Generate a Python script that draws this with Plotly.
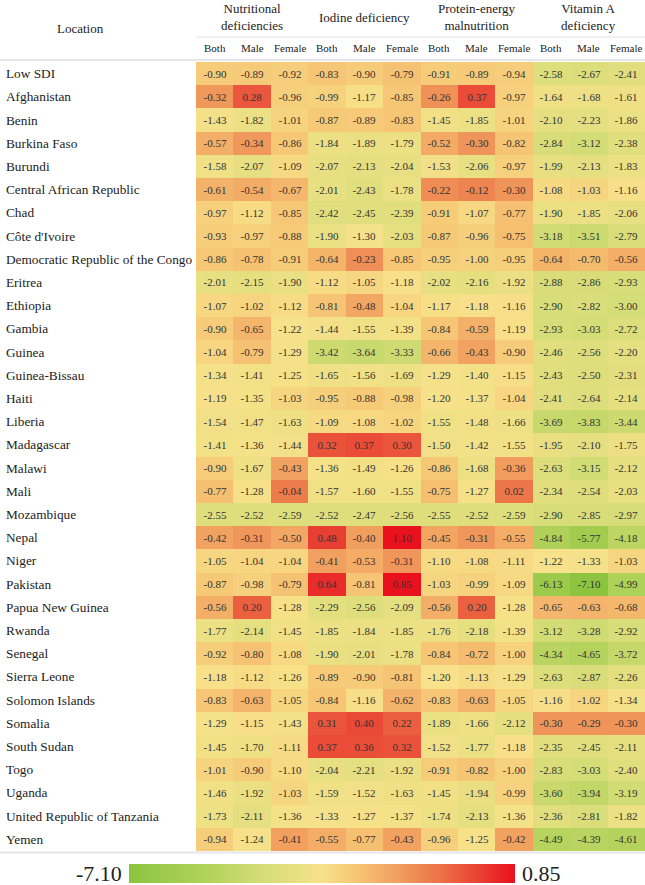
import numpy as np
import plotly.graph_objects as go

locations = ["Low SDI", "Afghanistan", "Benin", "Burkina Faso", "Burundi",
             "Central African Republic", "Chad", "Côte d'Ivoire",
             "Democratic Republic of the Congo", "Eritrea", "Ethiopia", "Gambia",
             "Guinea", "Guinea-Bissau", "Haiti", "Liberia", "Madagascar", "Malawi",
             "Mali", "Mozambique", "Nepal", "Niger", "Pakistan", "Papua New Guinea",
             "Rwanda", "Senegal", "Sierra Leone", "Solomon Islands", "Somalia",
             "South Sudan", "Togo", "Uganda", "United Republic of Tanzania", "Yemen"]

groups = ["Nutritional<br>deficiencies", "Iodine deficiency",
          "Protein-energy<br>malnutrition", "Vitamin A<br>deficiency"]
sexes = ["Both", "Male", "Female"]

nutr_both = [-0.90, -0.32, -1.43, -0.57, -1.58, -0.61, -0.97, -0.93, -0.86, -2.01, -1.07, -0.90,
             -1.04, -1.34, -1.19, -1.54, -1.41, -0.90, -0.77, -2.55, -0.42, -1.05, -0.87, -0.56,
             -1.77, -0.92, -1.18, -0.83, -1.29, -1.45, -1.01, -1.46, -1.73, -0.94]
nutr_male = [-0.89, 0.28, -1.82, -0.34, -2.07, -0.54, -1.12, -0.97, -0.78, -2.15, -1.02, -0.65,
             -0.79, -1.41, -1.35, -1.47, -1.36, -1.67, -1.28, -2.52, -0.31, -1.04, -0.98, 0.20,
             -2.14, -0.80, -1.12, -0.63, -1.15, -1.70, -0.90, -1.92, -2.11, -1.24]
nutr_female = [-0.92, -0.96, -1.01, -0.86, -1.09, -0.67, -0.85, -0.88, -0.91, -1.90, -1.12, -1.22,
               -1.29, -1.25, -1.03, -1.63, -1.44, -0.43, -0.04, -2.59, -0.50, -1.04, -0.79, -1.28,
               -1.45, -1.08, -1.26, -1.05, -1.43, -1.11, -1.10, -1.03, -1.36, -0.41]
iod_both = [-0.83, -0.99, -0.87, -1.84, -2.07, -2.01, -2.42, -1.90, -0.64, -1.12, -0.81, -1.44,
            -3.42, -1.65, -0.95, -1.09, 0.32, -1.36, -1.57, -2.52, 0.48, -0.41, 0.64, -2.29,
            -1.85, -1.90, -0.89, -0.84, 0.31, 0.37, -2.04, -1.59, -1.33, -0.55]
iod_male = [-0.90, -1.17, -0.89, -1.89, -2.13, -2.43, -2.45, -1.30, -0.23, -1.05, -0.48, -1.55,
            -3.64, -1.56, -0.88, -1.08, 0.37, -1.49, -1.60, -2.47, -0.40, -0.53, -0.81, -2.56,
            -1.84, -2.01, -0.90, -1.16, 0.40, 0.36, -2.21, -1.52, -1.27, -0.77]
iod_female = [-0.79, -0.85, -0.83, -1.79, -2.04, -1.78, -2.39, -2.03, -0.85, -1.18, -1.04, -1.39,
              -3.33, -1.69, -0.98, -1.02, 0.30, -1.26, -1.55, -2.56, 1.10, -0.31, 0.85, -2.09,
              -1.85, -1.78, -0.81, -0.62, 0.22, 0.32, -1.92, -1.63, -1.37, -0.43]
pem_both = [-0.91, -0.26, -1.45, -0.52, -1.53, -0.22, -0.91, -0.87, -0.95, -2.02, -1.17, -0.84,
            -0.66, -1.29, -1.20, -1.55, -1.50, -0.86, -0.75, -2.55, -0.45, -1.10, -1.03, -0.56,
            -1.76, -0.84, -1.20, -0.83, -1.89, -1.52, -0.91, -1.45, -1.74, -0.96]
pem_male = [-0.89, 0.37, -1.85, -0.30, -2.06, -0.12, -1.07, -0.96, -1.00, -2.16, -1.18, -0.59,
            -0.43, -1.40, -1.37, -1.48, -1.42, -1.68, -1.27, -2.52, -0.31, -1.08, -0.99, 0.20,
            -2.18, -0.72, -1.13, -0.63, -1.66, -1.77, -0.82, -1.94, -2.13, -1.25]
pem_female = [-0.94, -0.97, -1.01, -0.82, -0.97, -0.30, -0.77, -0.75, -0.95, -1.92, -1.16, -1.19,
              -0.90, -1.15, -1.04, -1.66, -1.55, -0.36, 0.02, -2.59, -0.55, -1.11, -1.09, -1.28,
              -1.39, -1.00, -1.29, -1.05, -2.12, -1.18, -1.00, -0.99, -1.36, -0.42]
vita_both = [-2.58, -1.64, -2.10, -2.84, -1.99, -1.08, -1.90, -3.18, -0.64, -2.88, -2.90, -2.93,
             -2.46, -2.43, -2.41, -3.69, -1.95, -2.63, -2.34, -2.90, -4.84, -1.22, -6.13, -0.65,
             -3.12, -4.34, -2.63, -1.16, -0.30, -2.35, -2.83, -3.60, -2.36, -4.49]
vita_male = [-2.67, -1.68, -2.23, -3.12, -2.13, -1.03, -1.85, -3.51, -0.70, -2.86, -2.82, -3.03,
             -2.56, -2.50, -2.64, -3.83, -2.10, -3.15, -2.54, -2.85, -5.77, -1.33, -7.10, -0.63,
             -3.28, -4.65, -2.87, -1.02, -0.29, -2.45, -3.03, -3.94, -2.81, -4.39]
vita_female = [-2.41, -1.61, -1.86, -2.38, -1.83, -1.16, -2.06, -2.79, -0.56, -2.93, -3.00, -2.72,
               -2.20, -2.31, -2.14, -3.44, -1.75, -2.12, -2.03, -2.97, -4.18, -1.03, -4.99, -0.68,
               -2.92, -3.72, -2.26, -1.34, -0.30, -2.11, -2.40, -3.19, -1.82, -4.61]

scale_min, scale_mid, scale_max = -7.10, -1.20, 0.85

columns = [nutr_both, nutr_male, nutr_female, iod_both, iod_male, iod_female,
           pem_both, pem_male, pem_female, vita_both, vita_male, vita_female]
vals = np.array(columns).T  # rows x 12
colorpos = np.interp(vals, [scale_min, scale_mid, scale_max], [0.0, 0.5, 1.0])
text = [[f"{v:.2f}" for v in row] for row in vals]

colorscale = [[0.0, "#8CC43F"], [0.2, "#B2D25A"], [0.35, "#D6DD78"], [0.5, "#F7E18A"],
              [0.58, "#F6C977"], [0.68, "#F2A562"], [0.8, "#EC7548"], [0.9, "#E94434"],
              [1.0, "#E8111D"]]

W, H = 645, 885
top_px, bot_px = 62, 851
ph = bot_px - top_px
def py(ypx):
    return (bot_px - ypx) / ph

SERIF = "Liberation Serif"

fig = go.Figure(go.Heatmap(
    z=colorpos, x=list(range(12)), y=list(range(len(locations))),
    zmin=0, zmax=1, colorscale=colorscale,
    text=text, texttemplate="%{text}",
    textfont=dict(family=SERIF, size=11, color="#333333"),
    hoverinfo="skip",
    colorbar=dict(orientation="h", xref="container", yref="container",
                  x=322 / W, xanchor="center", y=(H - 864) / H, yanchor="top",
                  len=386, lenmode="pixels", thickness=19, xpad=0, ypad=0,
                  outlinewidth=0, showticklabels=False, ticks=""),
))

ann = []
for i, name in enumerate(locations):
    ann.append(dict(x=4 / W, xref="paper", y=i, yref="y", text=name, showarrow=False,
                    xanchor="left", yanchor="middle",
                    font=dict(family=SERIF, size=13.3, color="#222222")))
ann.append(dict(x=80 / W, xref="paper", y=py(29), yref="paper", text="Location",
                showarrow=False, xanchor="center", yanchor="middle",
                font=dict(family=SERIF, size=13, color="#222222")))
for g, gname in enumerate(groups):
    ann.append(dict(x=g * 3 + 1, xref="x", y=py(17), yref="paper", text=gname,
                    showarrow=False, xanchor="center", yanchor="middle",
                    font=dict(family=SERIF, size=13, color="#222222")))
    for s, sname in enumerate(sexes):
        ann.append(dict(x=g * 3 + s, xref="x", y=py(48), yref="paper", text=sname,
                        showarrow=False, xanchor="center", yanchor="middle",
                        font=dict(family=SERIF, size=11, color="#222222")))
ann.append(dict(x=124 / W, xref="paper", y=py(873.5), yref="paper", text="-7.10",
                showarrow=False, xanchor="right", yanchor="middle",
                font=dict(family=SERIF, size=22, color="#222222")))
ann.append(dict(x=520 / W, xref="paper", y=py(873.5), yref="paper", text="0.85",
                showarrow=False, xanchor="left", yanchor="middle",
                font=dict(family=SERIF, size=22, color="#222222")))

shapes = [
    dict(type="line", xref="paper", yref="paper", x0=196 / W, x1=1, y0=py(37), y1=py(37),
         line=dict(color="#E2E2E2", width=1)),
    dict(type="line", xref="paper", yref="paper", x0=0, x1=1, y0=py(60), y1=py(60),
         line=dict(color="#E6E6E6", width=2)),
    dict(type="line", xref="paper", yref="paper", x0=0, x1=1, y0=py(852.5), y1=py(852.5),
         line=dict(color="#E6E6E6", width=2)),
]

fig.update_layout(
    width=W, height=H,
    font=dict(family=SERIF),
    margin=dict(l=0, r=0, t=top_px, b=H - bot_px, autoexpand=False),
    paper_bgcolor="white", plot_bgcolor="white",
    xaxis=dict(domain=[196 / W, 1], range=[-0.5, 11.5], showgrid=False, zeroline=False,
               showticklabels=False, ticks="", fixedrange=True),
    yaxis=dict(range=[len(locations) - 0.5, -0.5], showgrid=False, zeroline=False,
               showticklabels=False, ticks="", fixedrange=True),
    annotations=ann, shapes=shapes,
)

fig.write_html("out.html", config={"displayModeBar": False},
               post_script="document.body.style.margin='0';document.body.style.overflow='hidden';")
